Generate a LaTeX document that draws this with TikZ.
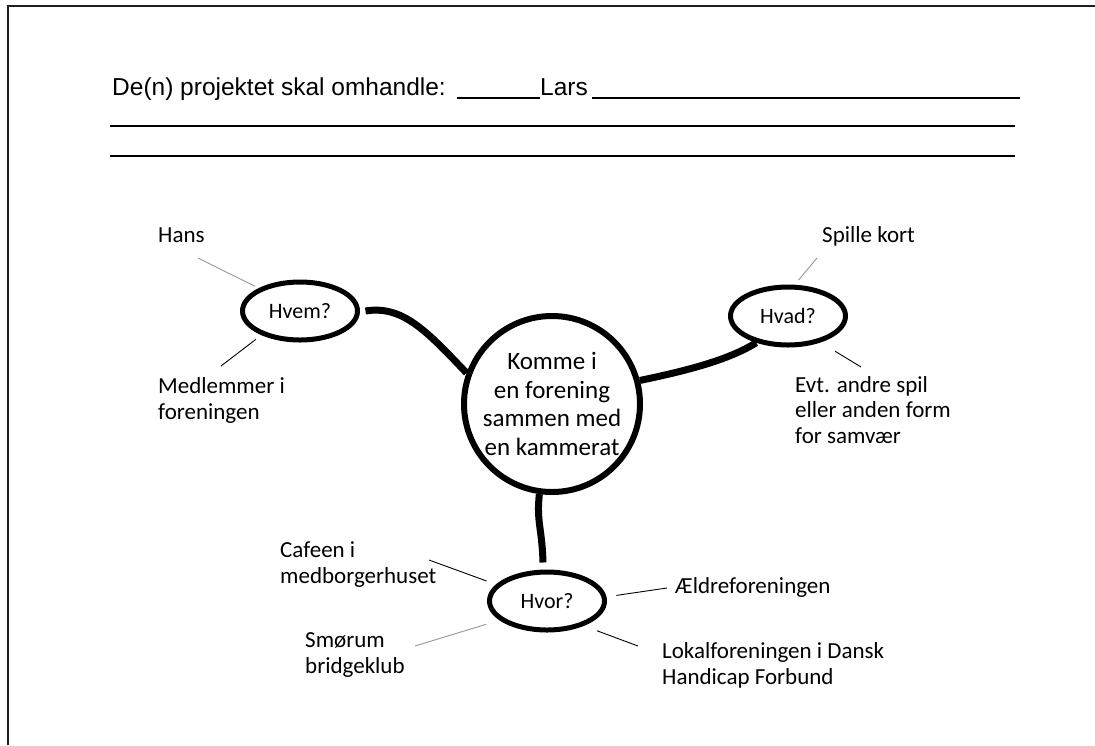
\documentclass[tikz,border=0pt]{standalone}
\usepackage{fontspec}
\setmainfont{Carlito}
\newfontfamily\headfont{Liberation Sans}
\usetikzlibrary{shapes.geometric}
\definecolor{tieGray}{RGB}{150,150,150}
\definecolor{frameGray}{RGB}{35,31,32}

\begin{document}
\begin{tikzpicture}[x=1pt,y=-1pt,
  ask/.style={ellipse, draw, line width=5pt, minimum width=115pt, minimum height=58pt, inner sep=0pt, font=\fontsize{22}{26}\selectfont},
  topic/.style={circle, draw, line width=6pt, minimum size=176pt, inner sep=0pt, align=center, font=\fontsize{25}{28.5}\selectfont},
  link/.style={line width=7pt},
  tie/.style={line width=0.9pt},
  tiegray/.style={line width=0.9pt, tieGray},
  lbl/.style={anchor=base west, inner sep=0pt, align=left, font=\fontsize{23}{25.5}\selectfont},
  head/.style={anchor=base west, inner sep=0pt, font=\headfont\fontsize{24.5}{28}\selectfont}]
\useasboundingbox (0,0) rectangle (1095,745);
\draw[frameGray, line width=2.5pt] (8,745) -- (8,6) -- (1095,6);

% heading with ruled lines
\node[head] (title) at (112,95) {De(n) projektet skal omhandle:};
\node[head] (lars) at (540,95) {Lars};
\draw[line width=1.6pt] (457,98) -- (540,98);
\draw[line width=1.6pt] (592,98) -- (1020,98);
\draw[line width=1.6pt] (110,126) -- (1015,126);
\draw[line width=1.6pt] (110,156) -- (1015,156);

% the map
\node[topic] (komme) at (552,404) {Komme i\\en forening\\sammen med\\en kammerat};
\node[ask] (hvem) at (300,311) {Hvem?};
\node[ask] (hvad) at (788,316) {Hvad?};
\node[ask] (hvor) at (547,601) {Hvor?};

\draw[link] ([xshift=5.5pt]hvem.east) .. controls +(37,-6) and +(-40,-42) .. (komme.160);
\draw[link] (komme.15) .. controls +(48,-10) and +(-27,17) .. (hvad.220);
\draw[link] (komme.262) .. controls +(-3,28) and +(-1,-35) .. ([xshift=-4pt,yshift=7pt]hvor.north);

% answers (base = last line)
\node[lbl] (hans) at (158,242) {Hans};
\node[lbl] (medlem) at (158,419) {Medlemmer i\\foreningen};
\node[lbl] (spille) at (822,242) {Spille kort};
\node[lbl] (evt) at (795,443) {Evt. andre spil\\eller anden form\\for samvær};
\node[lbl] (cafeen) at (280,583) {Cafeen i\\medborgerhuset};
\node[lbl] (smorum) at (305,673) {Smørum\\bridgeklub};
\node[lbl] (aeldre) at (675,593) {Ældreforeningen};
\node[lbl] (lokal) at (662,684) {Lokalforeningen i Dansk\\Handicap Forbund};

\coordinate (hans-tie) at (198,258);
\coordinate (medlem-tie) at (221,366);
\coordinate (spille-tie) at (817,258);
\coordinate (evt-tie) at (861,367);
\coordinate (cafeen-tie) at (429,560);
\coordinate (smorum-tie) at (415,646);
\coordinate (aeldre-tie) at (667,588);
\coordinate (lokal-tie) at (638,646);

\draw[tiegray, shorten >=4pt] (hans-tie) -- (hvem.151);
\draw[tie, shorten >=7pt] (medlem-tie) -- (hvem.212);
\draw[tiegray, shorten >=6pt] (spille-tie) -- (hvad.78);
\draw[tie, shorten >=17pt] (evt-tie) -- (hvad.321);
\draw[tie, shorten >=10pt] (cafeen-tie) -- (hvor.162);
\draw[tiegray, shorten >=14pt] (smorum-tie) -- (hvor.202);
\draw[tie, shorten >=10pt] (aeldre-tie) -- (hvor.4);
\draw[tie, shorten >=14pt] (lokal-tie) -- (hvor.326);
\end{tikzpicture}
\end{document}
